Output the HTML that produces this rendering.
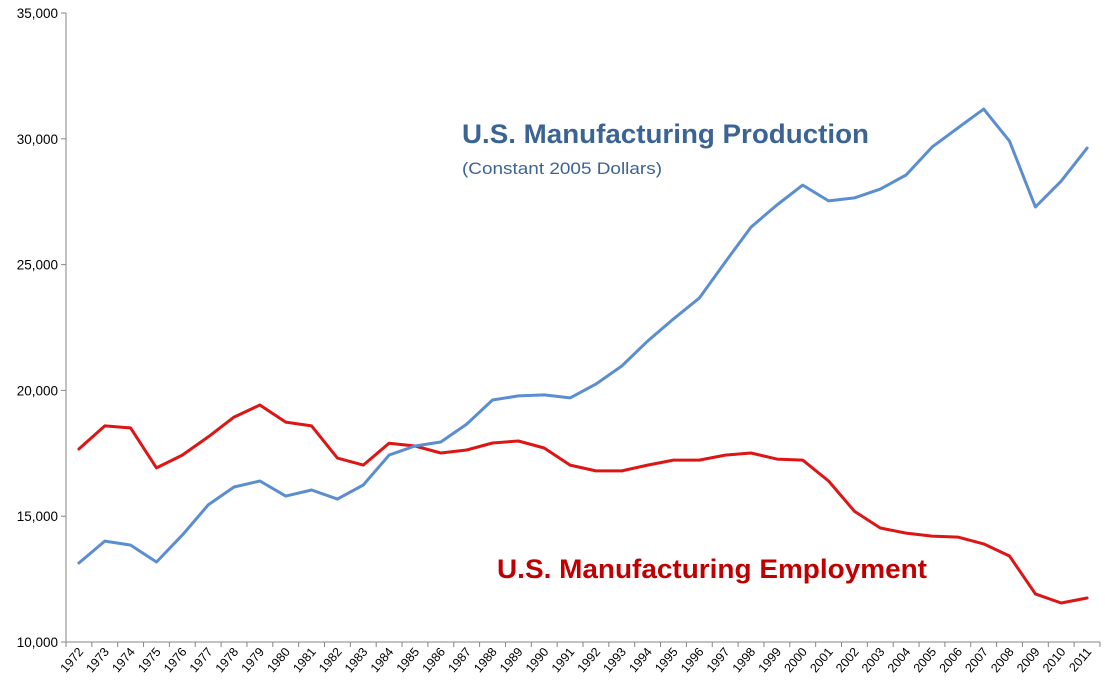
<!DOCTYPE html>
<html><head><meta charset="utf-8"><style>
body{margin:0;background:#fff;}
svg{display:block;font-family:"Liberation Sans",sans-serif;}
</style></head><body>
<svg id="chart" width="1105" height="692" viewBox="0 0 1105 692">
<g id="axes"></g>
<g id="series"></g>
<text x="462" y="143" font-size="27" font-weight="bold" fill="#3b6494" textLength="407" lengthAdjust="spacingAndGlyphs">U.S. Manufacturing Production</text>
<text x="462" y="174" font-size="17" fill="#3b6494" textLength="200" lengthAdjust="spacingAndGlyphs">(Constant 2005 Dollars)</text>
<text x="497" y="578" font-size="27" font-weight="bold" fill="#c00000" textLength="430" lengthAdjust="spacingAndGlyphs">U.S. Manufacturing Employment</text>
</svg>
<script>
const years = [];
for (let y = 1972; y <= 2011; y++) years.push(String(y));
const production = [13140,14010,13850,13180,14250,15450,16160,16400,15800,16040,15680,16240,17430,17790,17950,18660,19620,19780,19820,19700,20250,20970,21960,22840,23670,25100,26490,27370,28160,27530,27650,28000,28560,29670,30430,31180,29910,27290,28320,29630];
const employment = [17670,18590,18510,16920,17430,18150,18940,19420,18740,18590,17310,17030,17900,17790,17510,17630,17910,17990,17710,17030,16800,16800,17030,17230,17230,17430,17510,17270,17230,16400,15200,14530,14330,14210,14170,13900,13420,11910,11550,11750];
const yTicks = [10000,15000,20000,25000,30000,35000];
const yTickLabels = ["10,000","15,000","20,000","25,000","30,000","35,000"];

const NS = "http://www.w3.org/2000/svg";
const x0 = 66, x1 = 1100, yTop = 13, yBot = 642, vMin = 10000, vMax = 35000;
const bw = (x1 - x0) / years.length;
const xScale = i => x0 + bw * (i + 0.5);
const yScale = v => yBot - (v - vMin) / (vMax - vMin) * (yBot - yTop);
function mk(tag, attrs, parent) {
  const e = document.createElementNS(NS, tag);
  for (const k in attrs) e.setAttribute(k, attrs[k]);
  parent.appendChild(e); return e;
}
const axes = document.getElementById('axes');
const yAxis = mk('line', {x1: x0, y1: yTop, x2: x0, y2: yBot, stroke: '#868686', 'stroke-width': 1}, axes);


const xAxis = mk('line', {x1: x0, y1: yBot, x2: x1, y2: yBot, stroke: '#868686', 'stroke-width': 1}, axes);


yTicks.forEach((v, i) => {
  const yy = yScale(v);
  const t = mk('line', {x1: x0 - 5, y1: yy, x2: x0, y2: yy, stroke: '#868686'}, axes);
  
  
  const l = mk('text', {x: x0 - 8, y: yy + 5, 'font-size': 13.5, 'text-anchor': 'end', fill: '#000'}, axes);
  
  
  l.textContent = yTickLabels[i];
});
for (let i = 0; i <= years.length; i++) {
  const xx = x0 + bw * i;
  const t = mk('line', {x1: xx, y1: yBot, x2: xx, y2: yBot + 5, stroke: '#868686'}, axes);
  
  
}
years.forEach((yr, i) => {
  const xx = xScale(i) + 5, yy = yBot + 10;
  const l = mk('text', {x: xx, y: yy, 'font-size': 12.5, 'text-anchor': 'end', fill: '#000', transform: `rotate(-50 ${xx} ${yy})`}, axes);
  
  
  l.textContent = yr;
});
const series = document.getElementById('series');
function line(vals, color, name) {
  const d = vals.map((v, i) => (i ? 'L' : 'M') + xScale(i).toFixed(1) + ' ' + yScale(v).toFixed(1)).join(' ');
  const p = mk('path', {d: d, fill: 'none', stroke: color, 'stroke-width': 3, 'stroke-linejoin': 'round', 'stroke-linecap': 'round'}, series);
  
  
}
line(employment, '#dd1515', 'employment-line');
line(production, '#5b8ed0', 'production-line');
</script>
</body></html>
